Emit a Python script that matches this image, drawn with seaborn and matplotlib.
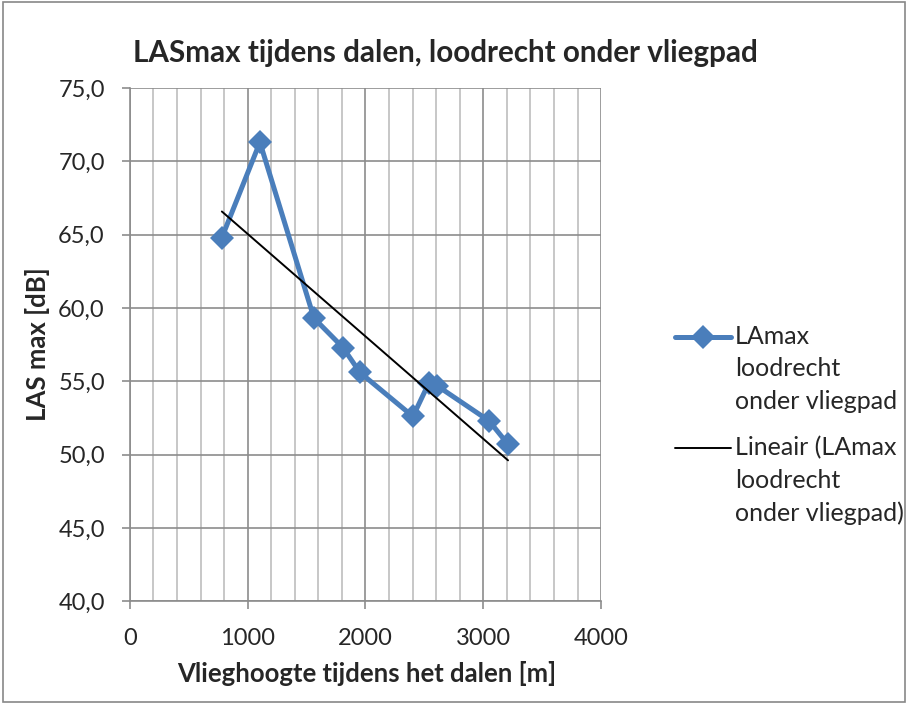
import numpy as np
import pandas as pd
import matplotlib
matplotlib.use('Agg')
import matplotlib.pyplot as plt
from matplotlib.lines import Line2D
from matplotlib.ticker import MultipleLocator, FuncFormatter
import seaborn as sns

# vlieghoogte [m] en LAmax [dB]
hoogte = [781, 1104, 1563, 1809, 1953, 2403, 2539, 2607, 3049, 3210]
lamax = [64.8, 71.3, 59.3, 57.3, 55.6, 52.6, 54.9, 54.7, 52.3, 50.7]
label_data = 'LAmax\nloodrecht\nonder vliegpad'
label_trend = 'Lineair (LAmax\nloodrecht\nonder vliegpad)'

df = pd.DataFrame({'hoogte': hoogte, 'lamax': lamax})

sns.set_style('white')
plt.rcParams['font.family'] = ['Lato', 'DejaVu Sans']

fig = plt.figure(figsize=(9.08, 7.04), dpi=100)
ax = fig.add_axes([0.143, 0.146, 0.519, 0.729])

# outer frame of the chart
fig.patches.append(plt.Rectangle((0.003, 0.003), 0.994, 0.994, transform=fig.transFigure,
                                 fill=False, edgecolor='#888888', lw=1.2))

blue = '#4A7EBB'
sns.lineplot(data=df, x='hoogte', y='lamax', sort=False, color=blue, lw=3.6,
             marker='D', markersize=12, markeredgewidth=0, ax=ax, zorder=3)
sns.regplot(data=df, x='hoogte', y='lamax', scatter=False, ci=None, truncate=True,
            color='black', line_kws={'lw': 1.4, 'zorder': 4}, ax=ax)

ax.set_xlim(0, 4000)
ax.set_ylim(40, 75)
ax.xaxis.set_major_locator(MultipleLocator(1000))
ax.xaxis.set_minor_locator(MultipleLocator(200))
ax.yaxis.set_major_locator(MultipleLocator(5))
ax.yaxis.set_major_formatter(FuncFormatter(lambda v, p: f'{v:.1f}'.replace('.', ',')))

ax.grid(which='major', color='#8C8C8C', lw=1.2)
ax.grid(which='minor', axis='x', color='#BEBEBE', lw=1.2)
ax.set_axisbelow(True)
for s in ['top', 'right']:
    ax.spines[s].set_visible(False)
for s in ['left', 'bottom']:
    ax.spines[s].set_color('#8C8C8C')
    ax.spines[s].set_linewidth(1.2)
ax.tick_params(axis='both', which='major', labelsize=17, length=6, width=1.2,
               color='#8C8C8C', direction='out', bottom=True, left=True)
ax.tick_params(axis='y', pad=12)
ax.tick_params(axis='x', pad=13)
ax.tick_params(axis='x', which='minor', length=0)

ax.set_xlabel('Vlieghoogte tijdens het dalen [m]', fontsize=18.5, fontweight='bold')
ax.set_ylabel('LAS max [dB]', fontsize=18.5, fontweight='bold')
ax.xaxis.set_label_coords(0.503, -0.141)
ax.xaxis.label.set_va('center')
ax.yaxis.set_label_coords(-0.195, 0.50)
ax.yaxis.label.set_va('center')
fig.text(0.491, 0.925, 'LASmax tijdens dalen, loodrecht onder vliegpad',
         fontsize=21.3, fontweight='bold', ha='center', va='center')

# legend, Excel style: sample next to the first text line
leg_x0, leg_x1, leg_tx = 675 / 908, 731 / 908, 735 / 908
for lbl, ytop, kw in [(label_data, 1 - 325 / 704,
                       dict(color=blue, lw=3.6, marker='D', markersize=12,
                            markeredgewidth=0, markevery=[1])),
                      (label_trend, 1 - 436 / 704, dict(color='black', lw=1.4))]:
    fig.text(leg_tx, ytop, lbl, fontsize=18, va='top', ha='left', linespacing=1.5)
    yc = ytop - 12 / 704
    fig.add_artist(Line2D([leg_x0, (leg_x0 + leg_x1) / 2, leg_x1], [yc, yc, yc],
                          transform=fig.transFigure, solid_capstyle='round', **kw))

fig.savefig('out.png', dpi=100)
